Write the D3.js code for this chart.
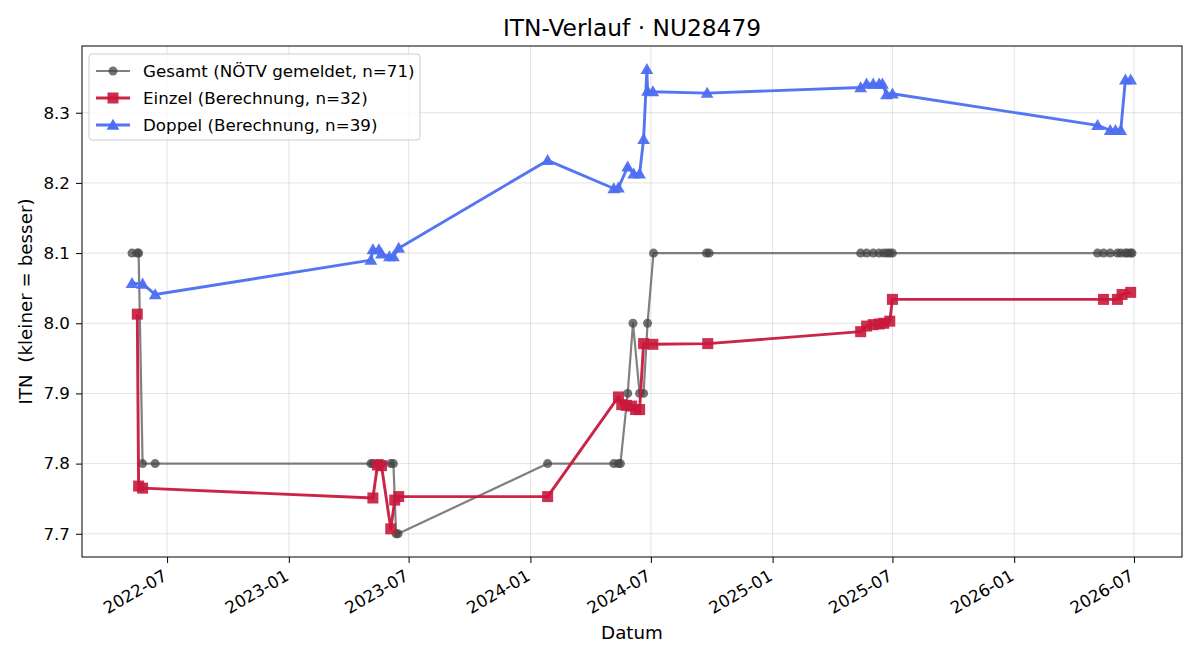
<!DOCTYPE html>
<html>
<head>
  <meta charset="utf-8">
  <title>ITN-Verlauf · NU28479</title>
  <style>
    body { margin: 0; background: #fff; }
    svg, svg text { font-family: "DejaVu Sans", sans-serif; }
    .grid line { stroke: #b0b0b0; stroke-opacity: 0.35; stroke-width: 1; }
  </style>
</head>
<body>
<svg width="1200" height="660"></svg>
<script src="https://cdn.jsdelivr.net/npm/d3@7"></script>
<script>
// Daten
const gesamtDates = [
  "2022-05-09","2022-05-17","2022-05-19","2022-05-25","2022-06-13",
  "2023-05-05","2023-05-08","2023-05-15","2023-05-21","2023-06-04","2023-06-08","2023-06-12","2023-06-15",
  "2024-01-27","2024-05-06","2024-05-13","2024-05-16","2024-05-27","2024-06-04","2024-06-14","2024-06-20","2024-06-26","2024-07-05",
  "2024-09-23","2024-09-27",
  "2025-05-14","2025-05-23","2025-06-02","2025-06-11","2025-06-18","2025-06-23","2025-06-27","2025-07-01",
  "2026-05-07","2026-05-16","2026-05-26","2026-06-06","2026-06-11","2026-06-18","2026-06-21","2026-06-26","2026-06-28"
];
const gesamtITN = [
  8.1, 8.1, 8.1, 7.8, 7.8,
  7.8, 7.8, 7.8, 7.8, 7.8, 7.8, 7.7, 7.7,
  7.8, 7.8, 7.8, 7.8, 7.9, 8.0, 7.9, 7.9, 8.0, 8.1,
  8.1, 8.1,
  8.1, 8.1, 8.1, 8.1, 8.1, 8.1, 8.1, 8.1,
  8.1, 8.1, 8.1, 8.1, 8.1, 8.1, 8.1, 8.1, 8.1
];

const einzelDates = [
  "2022-05-17","2022-05-19","2022-05-25",
  "2023-05-08","2023-05-15","2023-05-21","2023-06-04","2023-06-10","2023-06-16",
  "2024-01-27","2024-05-13","2024-05-18","2024-05-25","2024-06-02","2024-06-08","2024-06-14","2024-06-20","2024-07-04",
  "2024-09-25",
  "2025-05-14","2025-05-23","2025-06-02","2025-06-11","2025-06-18","2025-06-27","2025-07-01",
  "2026-05-16","2026-06-06","2026-06-13","2026-06-26"
];
const einzelITN = [
  8.013, 7.768, 7.765,
  7.751, 7.798, 7.797, 7.707, 7.748, 7.753,
  7.753, 7.895, 7.884, 7.883, 7.882, 7.877, 7.877, 7.971, 7.970,
  7.971,
  7.988, 7.996, 7.998, 7.999, 8.000, 8.003, 8.034,
  8.034, 8.034, 8.041, 8.044
];

const doppelDates = [
  "2022-05-09","2022-05-25","2022-06-13",
  "2023-05-05","2023-05-08","2023-05-17","2023-05-21","2023-06-02","2023-06-08","2023-06-16",
  "2024-01-27","2024-05-06","2024-05-13","2024-05-27","2024-06-05","2024-06-14","2024-06-20","2024-06-25","2024-06-26","2024-07-04",
  "2024-09-24",
  "2025-05-14","2025-05-23","2025-06-02","2025-06-11","2025-06-16","2025-06-22","2025-07-01",
  "2026-05-07","2026-05-26","2026-06-03","2026-06-11","2026-06-18","2026-06-26"
];
const doppelITN = [
  8.057, 8.056, 8.041,
  8.090, 8.105, 8.105, 8.099, 8.095, 8.095, 8.107,
  8.232, 8.192, 8.193, 8.223, 8.213, 8.213, 8.262, 8.362, 8.331, 8.330,
  8.328,
  8.336, 8.341, 8.341, 8.341, 8.341, 8.326, 8.327,
  8.282, 8.275, 8.275, 8.275, 8.347, 8.347
];

const legendLabels = [
  "Gesamt (NÖTV gemeldet, n=71)",
  "Einzel (Berechnung, n=32)",
  "Doppel (Berechnung, n=39)"
];
const yTicks = [7.7, 7.8, 7.9, 8.0, 8.1, 8.2, 8.3];

// Aufbereitung
const parse = d3.timeParse("%Y-%m-%d");
function zip(dates, vals) {
  return dates.map((d, i) => ({ date: parse(d), v: vals[i] }));
}
const series = [
  { key: "gesamt", data: zip(gesamtDates, gesamtITN), color: "#555555", lw: 2.2, lineOpacity: 0.75, marker: "circle", mfill: "#444444" },
  { key: "einzel", data: zip(einzelDates, einzelITN), color: "#c8183c", lw: 2.9, lineOpacity: 0.95, marker: "square", mfill: "#c8183c" },
  { key: "doppel", data: zip(doppelDates, doppelITN), color: "#4d6ef2", lw: 2.9, lineOpacity: 0.95, marker: "triangle", mfill: "#4d6ef2" }
];

const svg = d3.select("svg");
const m = { left: 82, right: 1182, top: 46, bottom: 557 };
const FS_TICK = 16.7, FS_LAB = 18.3, FS_TITLE = 23.3, FS_LEG = 16.7;

const all = series.flatMap(s => s.data);
const [d0, d1] = d3.extent(all, d => d.date);
const dpad = (d1 - d0) * 0.05;
const [v0, v1] = d3.extent(all, d => d.v);
const vpad = (v1 - v0) * 0.05;

const x = d3.scaleTime()
  .domain([new Date(+d0 - dpad), new Date(+d1 + dpad)])
  .range([m.left, m.right]);
const y = d3.scaleLinear()
  .domain([v0 - vpad, v1 + vpad])
  .range([m.bottom, m.top]);

const xTicks = d3.timeMonth.every(6).range(new Date(2022, 6, 1), new Date(2026, 7, 1));

// Gitter
const grid = svg.append("g").attr("class", "grid");
grid.selectAll(".gx").data(xTicks).enter().append("line")
  .attr("x1", d => x(d)).attr("x2", d => x(d))
  .attr("y1", m.top).attr("y2", m.bottom);
grid.selectAll(".gy").data(yTicks).enter().append("line")
  .attr("x1", m.left).attr("x2", m.right)
  .attr("y1", d => y(d)).attr("y2", d => y(d));

// Achsen
const xAxis = svg.append("g")
  .attr("transform", `translate(0,${m.bottom})`)
  .call(d3.axisBottom(x).tickValues(xTicks).tickFormat(d3.timeFormat("%Y-%m")).tickSizeOuter(0).tickSize(6));
xAxis.attr("font-family", null).attr("font-size", null);
xAxis.select(".domain").remove();
xAxis.selectAll("text")
  .style("font-size", FS_TICK + "px")
  .style("font-family", "DejaVu Sans")
  .attr("fill", "#000")
  .attr("text-anchor", "end")
  .attr("x", 0).attr("y", 0)
  .attr("dy", "0.78em")
  .attr("transform", "translate(-6,11) rotate(-30)");
xAxis.selectAll("line").attr("stroke", "#000").attr("stroke-width", 1);

const yAxis = svg.append("g")
  .attr("transform", `translate(${m.left},0)`)
  .call(d3.axisLeft(y).tickValues(yTicks).tickFormat(d3.format(".1f")).tickSizeOuter(0).tickSize(6).tickPadding(6));
yAxis.attr("font-family", null).attr("font-size", null);
yAxis.select(".domain").remove();
yAxis.selectAll("text")
  .style("font-size", FS_TICK + "px")
  .style("font-family", "DejaVu Sans")
  .attr("fill", "#000");
yAxis.selectAll("line").attr("stroke", "#000").attr("stroke-width", 1);

// Linien und Marker
const line = d3.line().x(d => x(d.date)).y(d => y(d.v));
const tri = d3.symbol().type(d3.symbolTriangle).size(70);

series.forEach(s => {
  const g = svg.append("g").attr("class", s.key);
  g.append("path")
    .datum(s.data)
    .attr("d", line)
    .attr("fill", "none")
    .attr("stroke", s.color)
    .attr("stroke-width", s.lw)
    .attr("stroke-opacity", s.lineOpacity)
    .attr("stroke-linejoin", "round");
  const pts = g.selectAll(".pt").data(s.data).enter();
  if (s.marker === "circle") {
    pts.append("circle")
      .attr("cx", d => x(d.date)).attr("cy", d => y(d.v)).attr("r", 4.5)
      .attr("fill", s.mfill).attr("fill-opacity", 0.75);
  } else if (s.marker === "square") {
    pts.append("rect")
      .attr("x", d => x(d.date) - 5.5).attr("y", d => y(d.v) - 5.5)
      .attr("width", 11).attr("height", 11)
      .attr("fill", s.mfill).attr("fill-opacity", 0.9);
  } else {
    pts.append("path")
      .attr("d", tri)
      .attr("transform", d => `translate(${x(d.date)},${y(d.v) + 1})`)
      .attr("fill", s.mfill).attr("fill-opacity", 0.95);
  }
});

// Rahmen
svg.append("rect")
  .attr("x", m.left).attr("y", m.top)
  .attr("width", m.right - m.left).attr("height", m.bottom - m.top)
  .attr("fill", "none").attr("stroke", "#000").attr("stroke-width", 1);

// Titel und Beschriftungen
svg.append("text")
  .attr("x", (m.left + m.right) / 2).attr("y", 36)
  .attr("text-anchor", "middle").style("font-size", FS_TITLE + "px")
  .text("ITN-Verlauf · NU28479");
svg.append("text")
  .attr("x", (m.left + m.right) / 2).attr("y", 639)
  .attr("text-anchor", "middle").style("font-size", FS_LAB + "px")
  .text("Datum");
svg.append("text")
  .attr("transform", `translate(32,${(m.top + m.bottom) / 2}) rotate(-90)`)
  .attr("text-anchor", "middle").style("font-size", FS_LAB + "px")
  .style("white-space", "pre")
  .text("ITN  (kleiner = besser)");

// Legende
const lg = svg.append("g").attr("transform", "translate(89,54)");
lg.append("rect")
  .attr("width", 331).attr("height", 86).attr("rx", 3)
  .attr("fill", "#fff").attr("fill-opacity", 0.8)
  .attr("stroke", "#cccccc").attr("stroke-width", 1);
series.forEach((s, i) => {
  const yy = 17 + i * 27;
  const row = lg.append("g").attr("transform", `translate(0,${yy})`);
  row.append("line")
    .attr("x1", 7).attr("x2", 41).attr("y1", 0).attr("y2", 0)
    .attr("stroke", s.color).attr("stroke-width", s.lw).attr("stroke-opacity", s.lineOpacity);
  if (s.marker === "circle") {
    row.append("circle").attr("cx", 24).attr("cy", 0).attr("r", 4.5)
      .attr("fill", s.mfill).attr("fill-opacity", 0.75);
  } else if (s.marker === "square") {
    row.append("rect").attr("x", 18.5).attr("y", -5.5).attr("width", 11).attr("height", 11)
      .attr("fill", s.mfill).attr("fill-opacity", 0.9);
  } else {
    row.append("path").attr("d", tri).attr("transform", "translate(24,1)")
      .attr("fill", s.mfill);
  }
  row.append("text")
    .attr("x", 54).attr("y", 0).attr("dy", "0.35em")
    .style("font-size", FS_LEG + "px")
    .text(legendLabels[i]);
});
</script>
</body>
</html>
